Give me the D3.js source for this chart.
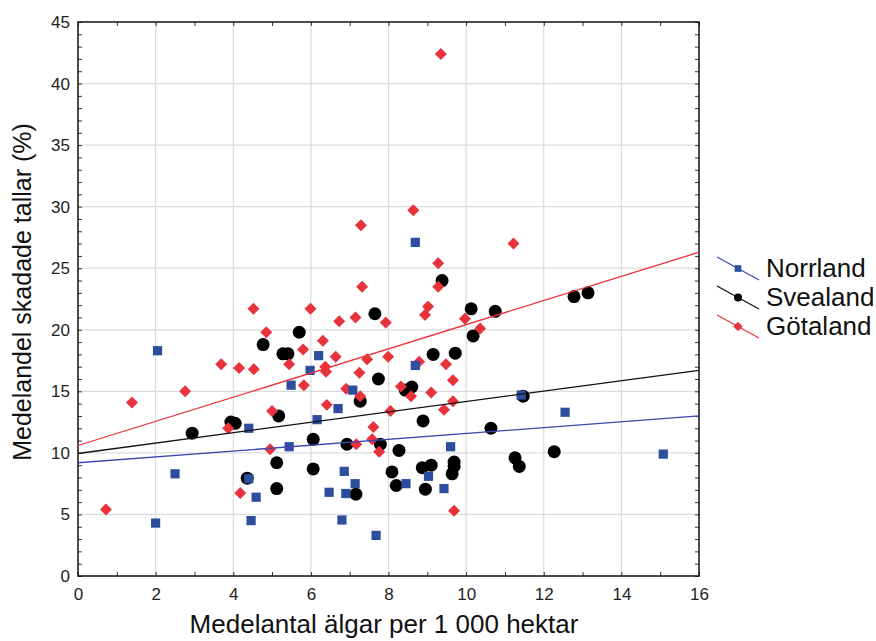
<!DOCTYPE html>
<html>
<head>
<meta charset="utf-8">
<script src="https://cdn.jsdelivr.net/npm/d3@7"></script>
<style>
  body { margin: 0; background: #fff; }
  text { font-family: "Liberation Sans", Arial, sans-serif; }
</style>
</head>
<body>
<script>
// values: [älgar per 1000 ha, % skadade tallar]
const norrland = [
  [2.05, 18.3], [2.0, 4.3], [2.5, 8.3], [4.4, 12.0], [4.4, 7.9], [4.59, 6.4],
  [4.46, 4.5], [5.44, 10.5], [5.49, 15.5], [5.98, 16.7], [6.2, 17.9], [6.16, 12.7],
  [6.7, 13.6], [7.08, 15.1], [6.86, 8.5], [7.14, 7.5], [6.47, 6.8], [6.9, 6.7],
  [6.8, 4.55], [7.68, 3.3], [8.69, 27.1], [8.69, 17.1], [11.42, 14.7], [9.6, 10.5],
  [8.45, 7.5], [9.03, 8.1], [9.43, 7.1], [12.55, 13.3], [15.08, 9.9]
];
const svealand = [
  [2.94, 11.6], [3.94, 12.5], [4.05, 12.4], [4.36, 7.95], [4.77, 18.8], [5.28, 18.05],
  [5.41, 18.05], [5.7, 19.8], [5.17, 13.0], [5.12, 9.2], [5.12, 7.1], [6.06, 11.1],
  [6.06, 8.7], [6.93, 10.7], [7.16, 6.65], [7.27, 14.2], [7.65, 21.3], [7.74, 16.0],
  [7.79, 10.7], [8.09, 8.45], [8.27, 10.2], [8.2, 7.35], [8.43, 15.1], [8.6, 15.35],
  [8.87, 8.8], [9.1, 9.0], [8.95, 7.05], [8.89, 12.6], [9.15, 18.0], [9.38, 24.0],
  [9.69, 9.25], [9.69, 8.9], [9.64, 8.3], [9.72, 18.1], [10.13, 21.7], [10.18, 19.5],
  [10.75, 21.5], [10.64, 12.0], [11.26, 9.6], [11.37, 8.9], [11.47, 14.6], [12.27, 10.1],
  [12.78, 22.7], [13.14, 23.0]
];
const gotaland = [
  [0.72, 5.4], [1.39, 14.1], [2.76, 15.0], [3.69, 17.2], [3.87, 12.0], [4.15, 16.9],
  [4.18, 6.75], [4.53, 16.8], [4.52, 21.7], [4.85, 19.8], [4.95, 10.3], [5.0, 13.4],
  [5.44, 17.2], [5.8, 18.4], [5.82, 15.5], [5.99, 21.7], [6.31, 19.1], [6.37, 17.0],
  [6.39, 16.6], [6.41, 13.9], [6.64, 17.8], [6.73, 20.7], [6.91, 15.2], [7.15, 21.0],
  [7.25, 16.5], [7.27, 14.6], [7.17, 10.7], [7.29, 28.5], [7.32, 23.5], [7.45, 17.6],
  [7.58, 11.1], [7.61, 12.1], [7.76, 10.1], [7.93, 20.6], [7.99, 17.8], [8.05, 13.4],
  [8.32, 15.4], [8.58, 14.6], [8.64, 29.7], [8.79, 17.4], [8.94, 21.2], [9.02, 21.9],
  [9.1, 14.9], [9.28, 25.4], [9.28, 23.5], [9.35, 42.4], [9.43, 13.5], [9.48, 17.2],
  [9.66, 15.9], [9.66, 14.2], [9.69, 5.3], [9.97, 20.9], [10.36, 20.1], [11.22, 27.0]
];
// fitted lines, end points
const fitNorrland = [[0, 9.2], [16, 13.0]];
const fitSvealand = [[0, 9.95], [16, 16.7]];
const fitGotaland = [[0, 10.6], [16, 26.3]];

const regions = ["Norrland", "Svealand", "Götaland"];
const xTicks = [0, 2, 4, 6, 8, 10, 12, 14, 16];
const yTicks = [0, 5, 10, 15, 20, 25, 30, 35, 40, 45];

const W = 876, H = 641;
const m = {left: 78, right: 177, top: 22, bottom: 65};

const svg = d3.select("body").append("svg")
  .attr("width", W)
  .attr("height", H);

const x = d3.scaleLinear().domain([0, 16]).range([m.left, W - m.right]);
const y = d3.scaleLinear().domain([0, 45]).range([H - m.bottom, m.top]);

// grid
svg.append("g").selectAll("line").data(xTicks.slice(1, -1)).enter().append("line")
  .attr("x1", d => x(d)).attr("x2", d => x(d))
  .attr("y1", y(0)).attr("y2", y(45))
  .attr("stroke", "#dcdcdc").attr("stroke-width", 1.2);
svg.append("g").selectAll("line").data(yTicks.slice(1, -1)).enter().append("line")
  .attr("y1", d => y(d)).attr("y2", d => y(d))
  .attr("x1", x(0)).attr("x2", x(16))
  .attr("stroke", "#dcdcdc").attr("stroke-width", 1.2);

// axes with inward ticks on all four sides
const minorX = d3.range(0, 17, 1);
const minorY = d3.range(0, 46, 1);

function frame(g) {
  g.selectAll(".domain").remove();
  g.selectAll(".tick line").attr("stroke", "#333");
}

svg.append("g").attr("transform", `translate(0,${y(0)})`)
  .call(d3.axisBottom(x).tickValues(minorX).tickSize(-4).tickFormat(""))
  .call(frame);
svg.append("g").attr("transform", `translate(0,${y(45)})`)
  .call(d3.axisTop(x).tickValues(minorX).tickSize(-4).tickFormat(""))
  .call(frame);
svg.append("g").attr("transform", `translate(${x(0)},0)`)
  .call(d3.axisLeft(y).tickValues(minorY).tickSize(-4).tickFormat(""))
  .call(frame);
svg.append("g").attr("transform", `translate(${x(16)},0)`)
  .call(d3.axisRight(y).tickValues(minorY).tickSize(-4).tickFormat(""))
  .call(frame);

// labels
const xAxis = svg.append("g").attr("transform", `translate(0,${y(0)})`)
  .call(d3.axisBottom(x).tickValues(xTicks).tickSize(0).tickPadding(12));
xAxis.select(".domain").remove();
xAxis.selectAll("text").attr("font-size", "17px").attr("fill", "#222")
  .attr("font-family", "Liberation Sans, Arial, sans-serif");

const yAxis = svg.append("g").attr("transform", `translate(${x(0)},0)`)
  .call(d3.axisLeft(y).tickValues(yTicks).tickSize(0).tickPadding(8));
yAxis.select(".domain").remove();
yAxis.selectAll("text").attr("font-size", "17px").attr("fill", "#222")
  .attr("font-family", "Liberation Sans, Arial, sans-serif");

// border
svg.append("rect")
  .attr("x", x(0)).attr("y", y(45))
  .attr("width", x(16) - x(0)).attr("height", y(0) - y(45))
  .attr("fill", "none").attr("stroke", "#111").attr("stroke-width", 1.5);

// markers
const blue = "#2d4d9e", red = "#e8323c";
const sq = d3.symbol().type(d3.symbolSquare).size(85);
const di = d3.symbol().type(d3.symbolSquare).size(72);   // turned 45° below

svg.append("g").selectAll("circle").data(svealand).enter().append("circle")
  .attr("cx", d => x(d[0])).attr("cy", d => y(d[1]))
  .attr("r", 6.5).attr("fill", "#000");

svg.append("g").selectAll("path").data(gotaland).enter().append("path")
  .attr("d", di)
  .attr("transform", d => `translate(${x(d[0])},${y(d[1])}) rotate(45)`)
  .attr("fill", red);

svg.append("g").selectAll("path").data(norrland).enter().append("path")
  .attr("d", sq)
  .attr("transform", d => `translate(${x(d[0])},${y(d[1])})`)
  .attr("fill", blue);

// fit lines
const line = d3.line().x(d => x(d[0])).y(d => y(d[1]));
svg.append("path").datum(fitNorrland).attr("d", line)
  .attr("stroke", "#3a48b0").attr("stroke-width", 1.3).attr("fill", "none");
svg.append("path").datum(fitSvealand).attr("d", line)
  .attr("stroke", "#111").attr("stroke-width", 1.3).attr("fill", "none");
svg.append("path").datum(fitGotaland).attr("d", line)
  .attr("stroke", "#ee3038").attr("stroke-width", 1.3).attr("fill", "none");

// axis titles
svg.append("text")
  .attr("x", 384).attr("y", 633)
  .attr("text-anchor", "middle")
  .attr("font-size", "26px")
  .attr("fill", "#111")
  .text("Medelantal älgar per 1 000 hektar");

svg.append("text")
  .attr("text-anchor", "middle")
  .attr("font-size", "25px")
  .attr("fill", "#111")
  .attr("transform", "translate(31,292) rotate(-90)")
  .text("Medelandel skadade tallar (%)");

// legend
const legColors = ["#3a48b0", "#111", "#ee3038"];
const legend = svg.append("g").selectAll("g").data(regions).enter().append("g")
  .attr("transform", (d, i) => `translate(717,${257 + i * 29})`);
legend.append("line")
  .attr("x1", 0).attr("y1", 0).attr("x2", 42).attr("y2", 23)
  .attr("stroke", (d, i) => legColors[i]).attr("stroke-width", 1.3);
legend.append("path")
  .attr("d", (d, i) => i == 1 ? d3.symbol().type(d3.symbolCircle).size(50)() : d3.symbol().type(d3.symbolSquare).size(45)())
  .attr("transform", (d, i) => i == 2 ? "translate(21,11.5) rotate(45)" : "translate(21,11.5)")
  .attr("fill", (d, i) => [blue, "#000", red][i]);
legend.append("text")
  .attr("x", 49).attr("y", 20)
  .attr("font-size", "26px")
  .attr("fill", "#111")
  .text(d => d);
</script>
</body>
</html>
